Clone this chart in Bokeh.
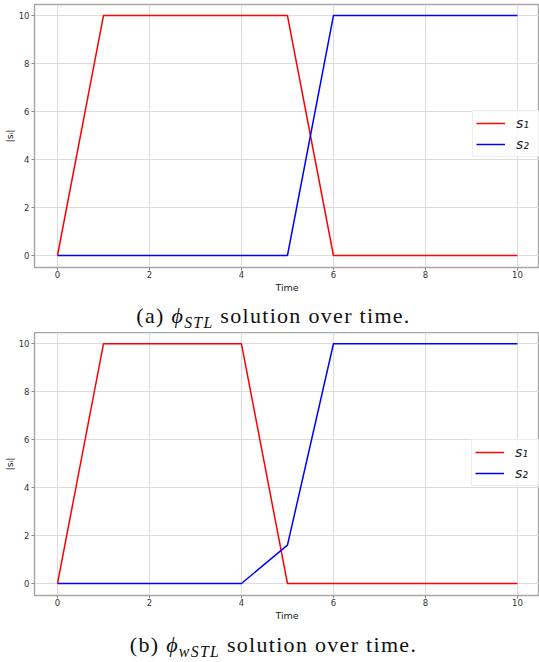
from bokeh.plotting import figure
from bokeh.layouts import column
from bokeh.models import Div, Range1d
from bokeh.embed import file_html
from bokeh.resources import INLINE

# ---- data ----
time = [0, 1, 2, 3, 4, 5, 6, 7, 8, 9, 10]
s1_stl = [0, 10, 10, 10, 10, 10, 0, 0, 0, 0, 0]
s2_stl = [0, 0, 0, 0, 0, 0, 10, 10, 10, 10, 10]
s1_wstl = [0, 10, 10, 10, 10, 0, 0, 0, 0, 0, 0]
s2_wstl = [0, 0, 0, 0, 0, 1.6, 10, 10, 10, 10, 10]
x_ticks = [0, 2, 4, 6, 8, 10]
y_ticks = [0, 2, 4, 6, 8, 10]
series_labels = ["s\u2081", "s\u2082"]
x_label = "Time"
y_label = "|s\u1d62|"
captions = [
    '(a) <i>&#x3D5;</i><sub style="font-size:72%"><i>STL</i></sub> solution over time.',
    '(b) <i>&#x3D5;</i><sub style="font-size:72%"><i>wSTL</i></sub> solution over time.',
]

RED = "#ff0000"
BLUE = "#0000ff"
GRID = "#dcdcdc"
SPINE = "#a6a6a6"
TXT = "#333333"
W = 539


def make_fig(height, top, y_end, s1, s2, legend_loc):
    p = figure(width=W, height=height, output_backend="svg", toolbar_location=None,
               x_range=Range1d(-0.5, 10.48), y_range=Range1d(-0.5, y_end),
               min_border_top=top, min_border_right=0, min_border_left=34,
               min_border_bottom=30, background_fill_color="white",
               border_fill_color="white")
    p.line(time, s1, color=RED, line_width=1.5, legend_label=series_labels[0])
    p.line(time, s2, color=BLUE, line_width=1.5, legend_label=series_labels[1])
    p.outline_line_color = SPINE
    p.outline_line_width = 1.4
    p.xaxis.ticker = x_ticks
    p.yaxis.ticker = y_ticks
    for ax in (p.xaxis[0], p.yaxis[0]):
        ax.axis_line_color = None
        ax.major_tick_line_color = "#888888"
        ax.major_tick_out = 3
        ax.major_tick_in = 0
        ax.minor_tick_line_color = None
        ax.major_label_text_font = "DejaVu Sans"
        ax.major_label_text_font_size = "8.5px"
        ax.major_label_text_color = TXT
        ax.axis_label_text_font = "DejaVu Sans"
        ax.axis_label_text_font_size = "9.5px"
        ax.axis_label_text_font_style = "normal"
        ax.axis_label_text_color = "#222222"
    p.xaxis.axis_label = x_label
    p.yaxis.axis_label = y_label
    p.xaxis.major_label_standoff = 0
    p.xaxis.axis_label_standoff = 1
    p.yaxis.major_label_standoff = 2
    p.yaxis.axis_label_standoff = 1
    p.xgrid.grid_line_color = GRID
    p.ygrid.grid_line_color = GRID
    p.xgrid.grid_line_width = 1
    p.ygrid.grid_line_width = 1
    lg = p.legend[0]
    lg.location = legend_loc
    lg.padding = 3
    lg.spacing = 3
    lg.margin = 0
    lg.glyph_width = 29
    lg.glyph_height = 18
    lg.label_height = 18
    lg.label_standoff = 11
    lg.label_text_font = "DejaVu Sans"
    lg.label_text_font_style = "italic"
    lg.label_text_font_size = "14px"
    lg.label_text_color = "#222222"
    lg.border_line_color = "#dddddd"
    lg.background_fill_color = "white"
    lg.background_fill_alpha = 0.85
    return p


fig_a = make_fig(297, 4, 10.46, s1_stl, s2_stl, (438, 110))
fig_b = make_fig(293, 0, 10.47, s1_wstl, s2_wstl, (437, 109))

cap_style = ("font-family:'Liberation Serif','Times New Roman',serif;font-size:22px;"
             "letter-spacing:1.3px;color:#111;text-align:center;white-space:nowrap;"
             f"width:{W}px;overflow:hidden;box-sizing:border-box;")
div_a = Div(text=f'<div style="{cap_style}height:35px;line-height:33px;padding-top:2px;padding-left:8px;">{captions[0]}</div>',
            width=W, height=35, margin=0)
div_b = Div(text=f'<div style="{cap_style}height:37px;line-height:34px;padding-top:3px;padding-left:8px;">{captions[1]}</div>',
            width=W, height=37, margin=0)

fig_a.margin = 0
fig_b.margin = 0
layout = column(fig_a, div_a, fig_b, div_b, spacing=0, margin=0)

open("out.html", "w").write(file_html(layout, INLINE))
